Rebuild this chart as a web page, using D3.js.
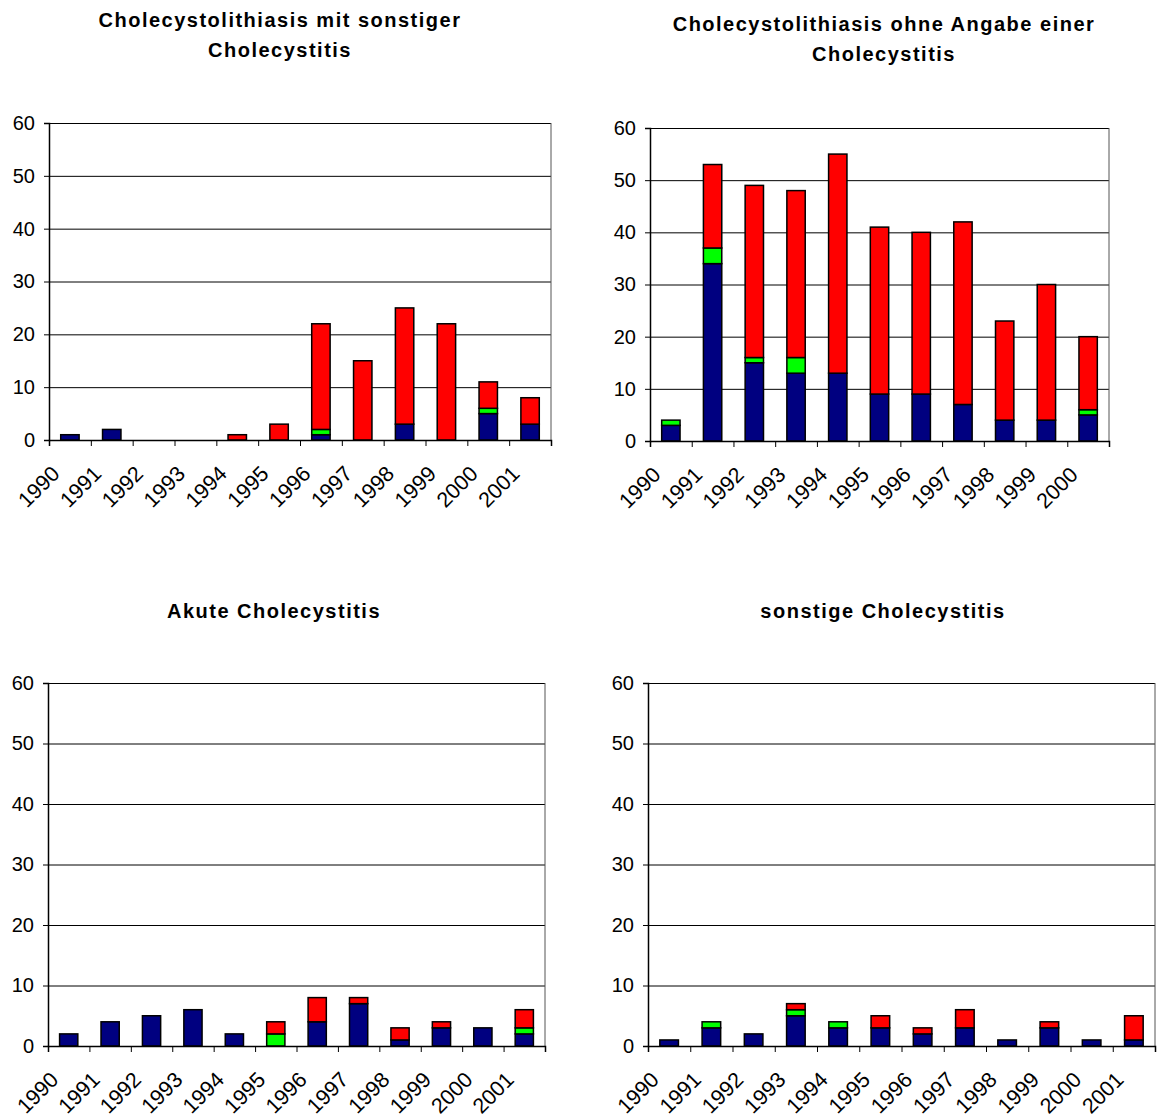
<!DOCTYPE html>
<html><head><meta charset="utf-8">
<script src="https://cdn.jsdelivr.net/npm/d3@7"></script>
<style>
body{margin:0;background:#fff;}
svg{display:block;font-family:"Liberation Sans",Arial,sans-serif;}
</style></head>
<body>
<svg id="c" width="1160" height="1117"></svg>
<script>
const years12 = ["1990","1991","1992","1993","1994","1995","1996","1997","1998","1999","2000","2001"];
const years11 = ["1990","1991","1992","1993","1994","1995","1996","1997","1998","1999","2000"];
const yTicks = [0,10,20,30,40,50,60];
const seriesNames = ["blau","gruen","rot"];
const seriesColors = ["#000080","#00ff00","#ff0000"];

// Chart 1: Cholecystolithiasis mit sonstiger Cholecystitis
const c1Title = ["Cholecystolithiasis mit sonstiger","Cholecystitis"];
const c1Blue  = [1,2,0,0,0,0,1,0,3,0,5,3];
const c1Green = [0,0,0,0,0,0,1,0,0,0,1,0];
const c1Red   = [0,0,0,0,1,3,20,15,22,22,5,5];

// Chart 2: Cholecystolithiasis ohne Angabe einer Cholecystitis
const c2Title = ["Cholecystolithiasis ohne Angabe einer","Cholecystitis"];
const c2Blue  = [3,34,15,13,13,9,9,7,4,4,5];
const c2Green = [1,3,1,3,0,0,0,0,0,0,1];
const c2Red   = [0,16,33,32,42,32,31,35,19,26,14];

// Chart 3: Akute Cholecystitis
const c3Title = ["Akute Cholecystitis"];
const c3Blue  = [2,4,5,6,2,0,4,7,1,3,3,2];
const c3Green = [0,0,0,0,0,2,0,0,0,0,0,1];
const c3Red   = [0,0,0,0,0,2,4,1,2,1,0,3];

// Chart 4: sonstige Cholecystitis
const c4Title = ["sonstige Cholecystitis"];
const c4Blue  = [1,3,2,5,3,3,2,3,1,3,1,1];
const c4Green = [0,1,0,1,1,0,0,0,0,0,0,0];
const c4Red   = [0,0,0,1,0,2,1,3,0,1,0,4];

const svg = d3.select("#c");

function drawChart(cfg){
  const {cats, blue, green, red, title, x0, x1, y0, y1, tx, ty} = cfg;
  const g = svg.append("g");
  const table = cats.map((c,i)=>({cat:c, blau:blue[i], gruen:green[i], rot:red[i]}));
  const stack = d3.stack().keys(seriesNames)(table);
  const x = d3.scaleBand().domain(cats).range([x0,x1]).paddingInner(0.56).paddingOuter(0.28);
  const y = d3.scaleLinear().domain([0,60]).range([y1,y0]);

  // title
  const t = g.append("text").attr("text-anchor","middle")
    .attr("font-weight","bold").attr("font-size",20).attr("letter-spacing",1.5).attr("fill","#000");
  title.forEach((line,i)=>{
    t.append("tspan").attr("x",tx).attr("y",ty + i*30).text(line);
  });

  // gridlines
  const grid = g.append("g").attr("transform",`translate(${x0},0)`)
    .call(d3.axisLeft(y).tickValues(yTicks).tickSize(-(x1-x0)).tickFormat(""));
  grid.select(".domain").remove();
  grid.selectAll("line").attr("stroke","#000").attr("stroke-width",1);

  // plot border (right side)
  g.append("line").attr("x1",x1).attr("x2",x1).attr("y1",y0).attr("y2",y1)
    .attr("stroke","#555").attr("stroke-width",1);

  // bars
  stack.forEach((s,si)=>{
    g.append("g").selectAll("rect").data(s.filter(d=>d[1]-d[0]>0)).join("rect")
      .attr("x",d=>x(d.data.cat))
      .attr("width",x.bandwidth())
      .attr("y",d=>y(d[1]))
      .attr("height",d=>y(d[0])-y(d[1]))
      .attr("fill",seriesColors[si])
      .attr("stroke","#000").attr("stroke-width",1.5);
  });

  // y axis
  const ya = g.append("g").attr("transform",`translate(${x0},0)`)
    .call(d3.axisLeft(y).tickValues(yTicks).tickSize(5).tickPadding(9));
  ya.select(".domain").attr("stroke","#000").attr("stroke-width",1.5);
  ya.selectAll("line").attr("stroke","#000");
  ya.selectAll("text").attr("font-size",20).attr("fill","#000")
    .attr("font-family","Liberation Sans, Arial, sans-serif");

  // x axis line and boundary ticks
  const xb = d3.scaleLinear().domain([0,cats.length]).range([x0,x1]);
  const xa = g.append("g").attr("transform",`translate(0,${y1})`)
    .call(d3.axisBottom(xb).tickValues(d3.range(cats.length+1)).tickSize(6).tickFormat(""));
  xa.select(".domain").attr("stroke","#000").attr("stroke-width",1.5);
  xa.selectAll("line").attr("stroke","#000");

  // x labels
  const xl = g.append("g").attr("transform",`translate(0,${y1})`)
    .call(d3.axisBottom(x).tickSize(0).tickPadding(0));
  xl.select(".domain").remove();
  xl.selectAll(".tick text")
    .attr("font-size",21.5).attr("fill","#000")
    .attr("font-family","Liberation Sans, Arial, sans-serif")
    .attr("text-anchor","end").attr("dy",0).attr("y",0)
    .attr("transform","translate(-9,35) rotate(-45)");
}

drawChart({cats:years12, blue:c1Blue, green:c1Green, red:c1Red, title:c1Title,
  x0:49, x1:551, y0:123, y1:440, tx:280, ty:27});
drawChart({cats:years11, blue:c2Blue, green:c2Green, red:c2Red, title:c2Title,
  x0:650, x1:1109, y0:128, y1:441, tx:884, ty:31});
drawChart({cats:years12, blue:c3Blue, green:c3Green, red:c3Red, title:c3Title,
  x0:48, x1:545, y0:683, y1:1046, tx:274, ty:618});
drawChart({cats:years12, blue:c4Blue, green:c4Green, red:c4Red, title:c4Title,
  x0:648, x1:1155, y0:683, y1:1046, tx:883, ty:618});
</script>
</body></html>
